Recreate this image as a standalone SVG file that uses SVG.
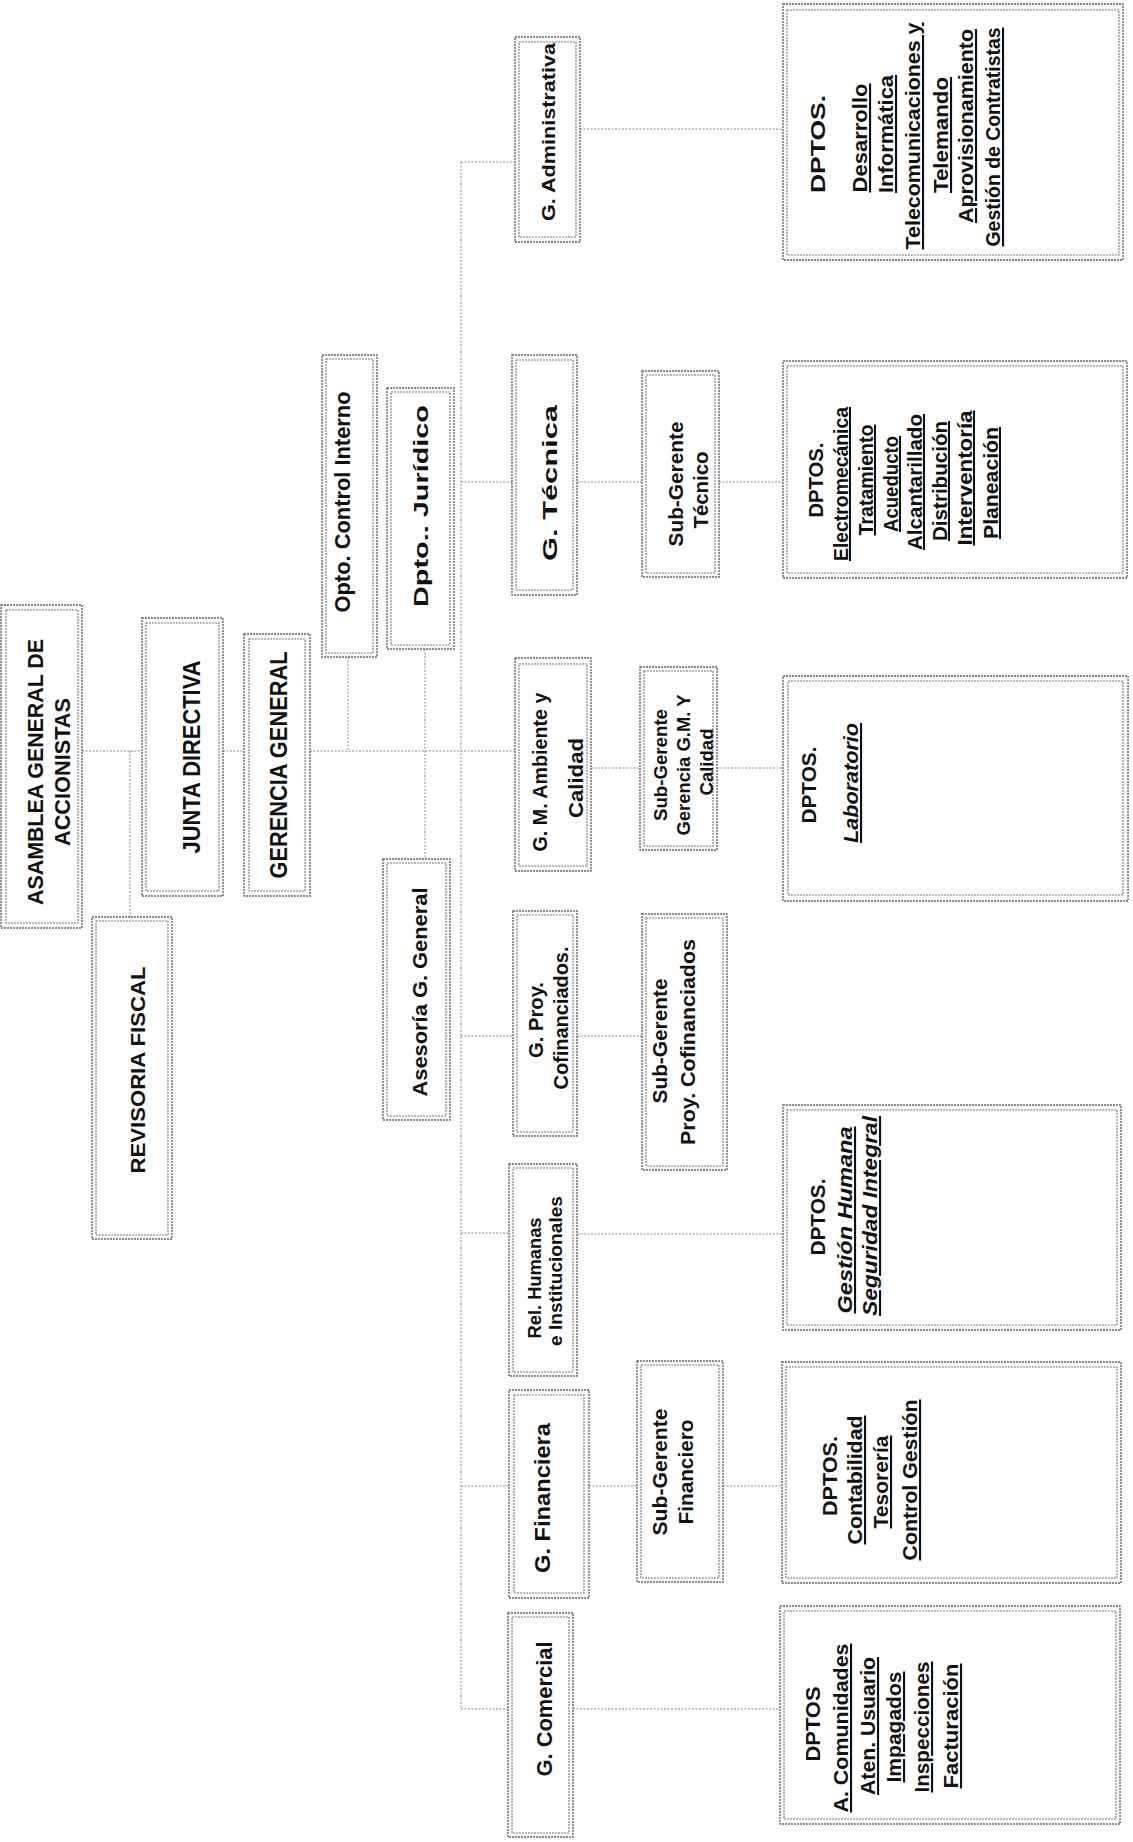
<svg xmlns="http://www.w3.org/2000/svg" width="1133" height="1842" viewBox="0 0 1133 1842">
<style>
.o{fill:none;stroke:#666;stroke-width:1.4;stroke-dasharray:2 1}
.i{fill:none;stroke:#777;stroke-width:1.1;stroke-dasharray:2 1}
.c{fill:none;stroke:#888;stroke-width:1;stroke-dasharray:2 1.5}
text{font-family:"Liberation Sans Narrow","Liberation Sans",Arial,sans-serif;font-weight:bold;fill:#111;text-anchor:middle}
.u{text-decoration:underline}
.it{font-style:italic}
</style>
<rect width="1133" height="1842" fill="#fff"/>
<g id="connectors">
<path class="c" d="M82,751H142M223,751H244M130,751V917M310,751H515M348,657V751M425,649V859M461,162V1709M461,162H515M580,129H783M461,482H512M577,482H642M719,482H783M591,768H640M717,768H783M461,1036H513M577,1036H642M461,1233H509M577,1234H783M461,1486H509M589,1486H637M723,1486H782M461,1709H508M573,1709H780"/>
</g>
<g id="asamblea">
<rect class="o" x="1" y="605" width="81" height="323"/><rect class="i" x="6" y="610" width="72" height="313"/>
<text font-size="22" transform="translate(43,772) rotate(-90)" textLength="266" lengthAdjust="spacingAndGlyphs">ASAMBLEA GENERAL DE</text>
<text font-size="22" transform="translate(70,772) rotate(-90)" textLength="148" lengthAdjust="spacingAndGlyphs">ACCIONISTAS</text>
</g>
<g id="junta">
<rect class="o" x="142" y="618" width="81" height="278"/><rect class="i" x="146" y="623" width="73" height="268"/>
<text font-size="24" transform="translate(200,757) rotate(-90)" textLength="193" lengthAdjust="spacingAndGlyphs">JUNTA DIRECTIVA</text>
</g>
<g id="gerencia">
<rect class="o" x="244" y="634" width="66" height="262"/><rect class="i" x="249" y="639" width="56" height="252"/>
<text font-size="23" transform="translate(287,765) rotate(-90)" textLength="227" lengthAdjust="spacingAndGlyphs">GERENCIA GENERAL</text>
</g>
<g id="revisoria">
<rect class="o" x="92" y="917" width="80" height="322"/><rect class="i" x="96" y="921" width="72" height="314"/>
<text font-size="21" transform="translate(145,1070) rotate(-90)" textLength="207" lengthAdjust="spacingAndGlyphs">REVISORIA FISCAL</text>
</g>
<g id="control">
<rect class="o" x="322" y="355" width="55" height="302"/><rect class="i" x="326" y="359" width="47" height="294"/>
<text font-size="22" transform="translate(350,502) rotate(-90)" textLength="221" lengthAdjust="spacingAndGlyphs">Opto. Control Interno</text>
</g>
<g id="juridico">
<rect class="o" x="387" y="388" width="67" height="261"/><rect class="i" x="391" y="392" width="59" height="253"/>
<text font-size="21" transform="translate(428,506) rotate(-90)" textLength="202" lengthAdjust="spacingAndGlyphs">Dpto.. Jurídico</text>
</g>
<g id="asesoria">
<rect class="o" x="383" y="859" width="67" height="261"/><rect class="i" x="387" y="863" width="59" height="253"/>
<text font-size="20" transform="translate(427,992) rotate(-90)" textLength="209" lengthAdjust="spacingAndGlyphs">Asesoría G. General</text>
</g>
<g id="g_admin">
<rect class="o" x="515" y="37" width="65" height="205"/><rect class="i" x="519" y="42" width="57" height="195"/>
<text font-size="19" transform="translate(555,132) rotate(-90)" textLength="178" lengthAdjust="spacingAndGlyphs">G. Administrativa</text>
</g>
<g id="g_tecnica">
<rect class="o" x="512" y="355" width="65" height="240"/><rect class="i" x="516" y="360" width="57" height="230"/>
<text font-size="21" transform="translate(557,483) rotate(-90)" textLength="156" lengthAdjust="spacingAndGlyphs">G. Técnica</text>
</g>
<g id="subg_tecnico">
<rect class="o" x="642" y="371" width="77" height="206"/><rect class="i" x="646" y="375" width="69" height="198"/>
<text font-size="20" transform="translate(683,484) rotate(-90)" textLength="125" lengthAdjust="spacingAndGlyphs">Sub-Gerente</text>
<text font-size="20" transform="translate(708,490) rotate(-90)" textLength="77" lengthAdjust="spacingAndGlyphs">Técnico</text>
</g>
<g id="g_ma">
<rect class="o" x="515" y="658" width="76" height="213"/><rect class="i" x="519" y="664" width="68" height="202"/>
<text font-size="21" transform="translate(547,772) rotate(-90)" textLength="159" lengthAdjust="spacingAndGlyphs">G. M. Ambiente y</text>
<text font-size="21" transform="translate(583,778) rotate(-90)" textLength="80" lengthAdjust="spacingAndGlyphs">Calidad</text>
</g>
<g id="subg_ma">
<rect class="o" x="640" y="667" width="77" height="183"/><rect class="i" x="644" y="671" width="69" height="175"/>
<text font-size="19" transform="translate(667,765) rotate(-90)" textLength="112" lengthAdjust="spacingAndGlyphs">Sub-Gerente</text>
<text font-size="19" transform="translate(690,765) rotate(-90)" textLength="141" lengthAdjust="spacingAndGlyphs">Gerencia G.M. Y</text>
<text font-size="19" transform="translate(713,762) rotate(-90)" textLength="67" lengthAdjust="spacingAndGlyphs">Calidad</text>
</g>
<g id="g_proy">
<rect class="o" x="513" y="911" width="64" height="225"/><rect class="i" x="517" y="915" width="56" height="217"/>
<text font-size="20" transform="translate(543,1020) rotate(-90)" textLength="76" lengthAdjust="spacingAndGlyphs">G. Proy.</text>
<text font-size="20" transform="translate(568,1018) rotate(-90)" textLength="143" lengthAdjust="spacingAndGlyphs">Cofinanciados.</text>
</g>
<g id="subg_proy">
<rect class="o" x="642" y="914" width="85" height="256"/><rect class="i" x="646" y="918" width="77" height="248"/>
<text font-size="20" transform="translate(667,1041) rotate(-90)" textLength="125" lengthAdjust="spacingAndGlyphs">Sub-Gerente</text>
<text font-size="20" transform="translate(695,1042) rotate(-90)" textLength="206" lengthAdjust="spacingAndGlyphs">Proy. Cofinanciados</text>
</g>
<g id="rel">
<rect class="o" x="509" y="1164" width="68" height="212"/><rect class="i" x="513" y="1168" width="60" height="204"/>
<text font-size="18" transform="translate(541,1278) rotate(-90)" textLength="121" lengthAdjust="spacingAndGlyphs">Rel. Humanas</text>
<text font-size="18" transform="translate(562,1271) rotate(-90)" textLength="150" lengthAdjust="spacingAndGlyphs">e Institucionales</text>
</g>
<g id="g_fin">
<rect class="o" x="509" y="1390" width="80" height="208"/><rect class="i" x="514" y="1395" width="70" height="198"/>
<text font-size="22" transform="translate(550,1498) rotate(-90)" textLength="150" lengthAdjust="spacingAndGlyphs">G. Financiera</text>
</g>
<g id="subg_fin">
<rect class="o" x="637" y="1361" width="86" height="221"/><rect class="i" x="641" y="1365" width="78" height="213"/>
<text font-size="20" transform="translate(667,1472) rotate(-90)" textLength="127" lengthAdjust="spacingAndGlyphs">Sub-Gerente</text>
<text font-size="20" transform="translate(693,1472) rotate(-90)" textLength="105" lengthAdjust="spacingAndGlyphs">Financiero</text>
</g>
<g id="g_com">
<rect class="o" x="508" y="1613" width="65" height="224"/><rect class="i" x="512" y="1617" width="57" height="216"/>
<text font-size="22" transform="translate(552,1709) rotate(-90)" textLength="135" lengthAdjust="spacingAndGlyphs">G. Comercial</text>
</g>
<g id="dptos_admin">
<rect class="o" x="783" y="4" width="340" height="256"/><rect class="i" x="787" y="10" width="332" height="245"/>
<text font-size="21" transform="translate(825,144) rotate(-90)" textLength="98" lengthAdjust="spacingAndGlyphs">DPTOS.</text>
<text class="u" font-size="21" transform="translate(867,138) rotate(-90)" textLength="109" lengthAdjust="spacingAndGlyphs">Desarrollo</text>
<text class="u" font-size="21" transform="translate(893,134) rotate(-90)" textLength="118" lengthAdjust="spacingAndGlyphs">Informática</text>
<text class="u" font-size="21" transform="translate(920,136) rotate(-90)" textLength="227" lengthAdjust="spacingAndGlyphs">Telecomunicaciones y</text>
<text class="u" font-size="21" transform="translate(948,135) rotate(-90)" textLength="116" lengthAdjust="spacingAndGlyphs">Telemando</text>
<text class="u" font-size="21" transform="translate(973,126) rotate(-90)" textLength="194" lengthAdjust="spacingAndGlyphs">Aprovisionamiento</text>
<text class="u" font-size="21" transform="translate(1000,137) rotate(-90)" textLength="219" lengthAdjust="spacingAndGlyphs">Gestión de Contratistas</text>
</g>
<g id="dptos_tec">
<rect class="o" x="783" y="361" width="344" height="217"/><rect class="i" x="787" y="366" width="336" height="207"/>
<text font-size="21" transform="translate(823,480) rotate(-90)" textLength="75" lengthAdjust="spacingAndGlyphs">DPTOS.</text>
<text class="u" font-size="20" transform="translate(848,484) rotate(-90)" textLength="154" lengthAdjust="spacingAndGlyphs">Electromecánica</text>
<text class="u" font-size="20" transform="translate(873,480) rotate(-90)" textLength="111" lengthAdjust="spacingAndGlyphs">Tratamiento</text>
<text class="u" font-size="20" transform="translate(898,484) rotate(-90)" textLength="96" lengthAdjust="spacingAndGlyphs">Acueducto</text>
<text class="u" font-size="20" transform="translate(922,482) rotate(-90)" textLength="136" lengthAdjust="spacingAndGlyphs">Alcantarillado</text>
<text class="u" font-size="20" transform="translate(947,481) rotate(-90)" textLength="120" lengthAdjust="spacingAndGlyphs">Distribución</text>
<text class="u" font-size="20" transform="translate(972,478) rotate(-90)" textLength="135" lengthAdjust="spacingAndGlyphs">Interventoría</text>
<text class="u" font-size="20" transform="translate(998,483) rotate(-90)" textLength="112" lengthAdjust="spacingAndGlyphs">Planeación</text>
</g>
<g id="dptos_lab">
<rect class="o" x="783" y="676" width="345" height="225"/><rect class="i" x="788" y="681" width="335" height="214"/>
<text font-size="21" transform="translate(816,785) rotate(-90)" textLength="77" lengthAdjust="spacingAndGlyphs">DPTOS.</text>
<text class="u it" font-size="21" transform="translate(858,783) rotate(-90)" textLength="120" lengthAdjust="spacingAndGlyphs">Laboratorio</text>
</g>
<g id="dptos_hum">
<rect class="o" x="783" y="1105" width="338" height="225"/><rect class="i" x="787" y="1110" width="330" height="215"/>
<text font-size="21" transform="translate(825,1217) rotate(-90)" textLength="77" lengthAdjust="spacingAndGlyphs">DPTOS.</text>
<text class="u it" font-size="21" transform="translate(852,1220) rotate(-90)" textLength="187" lengthAdjust="spacingAndGlyphs">Gestión Humana</text>
<text class="u it" font-size="21" transform="translate(877,1216) rotate(-90)" textLength="200" lengthAdjust="spacingAndGlyphs">Seguridad Integral</text>
</g>
<g id="dptos_fin">
<rect class="o" x="782" y="1362" width="339" height="221"/><rect class="i" x="786" y="1367" width="331" height="211"/>
<text font-size="21" transform="translate(837,1476) rotate(-90)" textLength="80" lengthAdjust="spacingAndGlyphs">DPTOS.</text>
<text class="u" font-size="21" transform="translate(862,1480) rotate(-90)" textLength="129" lengthAdjust="spacingAndGlyphs">Contabilidad</text>
<text class="u" font-size="21" transform="translate(888,1482) rotate(-90)" textLength="93" lengthAdjust="spacingAndGlyphs">Tesorería</text>
<text class="u" font-size="21" transform="translate(917,1480) rotate(-90)" textLength="161" lengthAdjust="spacingAndGlyphs">Control Gestión</text>
</g>
<g id="dptos_com">
<rect class="o" x="780" y="1606" width="340" height="218"/><rect class="i" x="784" y="1611" width="332" height="208"/>
<text font-size="21" transform="translate(820,1724) rotate(-90)" textLength="75" lengthAdjust="spacingAndGlyphs">DPTOS</text>
<text class="u" font-size="21" transform="translate(848,1728) rotate(-90)" textLength="169" lengthAdjust="spacingAndGlyphs">A. Comunidades</text>
<text class="u" font-size="21" transform="translate(875,1726) rotate(-90)" textLength="138" lengthAdjust="spacingAndGlyphs">Aten. Usuario</text>
<text class="u" font-size="21" transform="translate(901,1727) rotate(-90)" textLength="111" lengthAdjust="spacingAndGlyphs">Impagados</text>
<text class="u" font-size="21" transform="translate(929,1727) rotate(-90)" textLength="131" lengthAdjust="spacingAndGlyphs">Inspecciones</text>
<text class="u" font-size="21" transform="translate(958,1726) rotate(-90)" textLength="125" lengthAdjust="spacingAndGlyphs">Facturación</text>
</g>
</svg>
